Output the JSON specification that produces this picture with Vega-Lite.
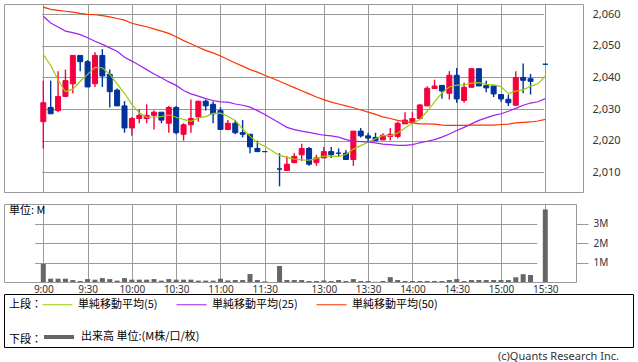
{
  "$schema": "https://vega.github.io/schema/vega-lite/v6.json",
  "padding": {"left": 3, "top": 3, "right": 0, "bottom": 0},
  "background": "white",
  "bounds": "flush",
  "spacing": 12,
  "resolve": {"scale": {"color": "independent"}, "legend": {"color": "independent"}},
  "config": {
    "font": "Noto Sans CJK JP",
    "view": {"stroke": "#999999", "strokeWidth": 1},
    "axis": {"labelFont": "Noto Sans", "labelColor": "#333333", "gridColor": "#999999", "gridWidth": 1, "gridOpacity": 1, "domain": false, "ticks": false, "labelOverlap": false},
    "legend": {"labelFont": "Noto Sans CJK JP", "titleFont": "Noto Sans CJK JP", "labelFontSize": 11, "titleFontSize": 11, "titleFontWeight": "normal", "labelColor": "#000000", "titleColor": "#000000"}
  },
  "datasets": {
    "d": [
      {"t":"9:00","o":2026,"h":2039,"l":2017.5,"c":2032,"v":0.93,"m5":2047.3,"m25":2059.4,"m50":2062.3},
      {"t":"9:05","o":2030.5,"h":2039,"l":2028.5,"c":2028.5,"v":0.17,"m5":2043.8,"m25":2057.3,"m50":2061.6},
      {"t":"9:10","o":2029.5,"h":2042,"l":2029,"c":2034,"v":0.17,"m5":2039.3,"m25":2056,"m50":2061.3},
      {"t":"9:15","o":2034,"h":2042.5,"l":2034,"c":2039,"v":0.17,"m5":2035.5,"m25":2054.7,"m50":2061},
      {"t":"9:20","o":2038,"h":2047,"l":2035,"c":2047,"v":0.1,"m5":2036.3,"m25":2054.2,"m50":2060.7},
      {"t":"9:25","o":2047,"h":2047,"l":2042,"c":2045,"v":0.05,"m5":2038.8,"m25":2053.6,"m50":2060.3},
      {"t":"9:30","o":2045,"h":2045.5,"l":2037,"c":2037,"v":0.15,"m5":2041,"m25":2052.6,"m50":2060},
      {"t":"9:35","o":2038,"h":2048,"l":2037,"c":2047,"v":0.12,"m5":2043.2,"m25":2051.5,"m50":2059.9},
      {"t":"9:40","o":2047,"h":2049,"l":2037,"c":2040.5,"v":0.2,"m5":2043.1,"m25":2050.5,"m50":2059.6},
      {"t":"9:45","o":2041,"h":2042.5,"l":2030.5,"c":2035.5,"v":0.15,"m5":2041,"m25":2049.4,"m50":2059.2},
      {"t":"9:50","o":2036,"h":2036.5,"l":2031,"c":2031,"v":0.07,"m5":2038,"m25":2048.3,"m50":2058.7},
      {"t":"9:55","o":2031,"h":2032.5,"l":2022.5,"c":2024,"v":0.2,"m5":2035,"m25":2046.4,"m50":2058.2},
      {"t":"10:00","o":2024,"h":2027.5,"l":2021.5,"c":2027,"v":0.12,"m5":2031.4,"m25":2045.2,"m50":2057.2},
      {"t":"10:05","o":2027,"h":2030,"l":2025.5,"c":2028,"v":0.12,"m5":2028.8,"m25":2043.9,"m50":2056.6},
      {"t":"10:10","o":2027,"h":2031.5,"l":2025.5,"c":2028,"v":0.12,"m5":2027.4,"m25":2042.5,"m50":2056.1},
      {"t":"10:15","o":2028,"h":2029.5,"l":2023.5,"c":2029,"v":0.15,"m5":2027.4,"m25":2041.1,"m50":2055.4},
      {"t":"10:20","o":2029,"h":2029,"l":2025.5,"c":2026.5,"v":0.07,"m5":2027.6,"m25":2039.9,"m50":2054.7},
      {"t":"10:25","o":2025.5,"h":2031,"l":2022.5,"c":2030.5,"v":0.15,"m5":2028.1,"m25":2038.6,"m50":2054},
      {"t":"10:30","o":2030.5,"h":2031,"l":2022,"c":2022.5,"v":0.12,"m5":2027.4,"m25":2037.5,"m50":2052.9},
      {"t":"10:35","o":2022,"h":2025.5,"l":2020,"c":2025,"v":0.12,"m5":2026.7,"m25":2035.9,"m50":2051.7},
      {"t":"10:40","o":2025,"h":2033,"l":2022.5,"c":2027,"v":0.12,"m5":2026.1,"m25":2034.8,"m50":2050.7},
      {"t":"10:45","o":2027.5,"h":2032.5,"l":2026,"c":2032.5,"v":0.07,"m5":2027.2,"m25":2034.1,"m50":2049.6},
      {"t":"10:50","o":2032.5,"h":2033,"l":2029.5,"c":2031,"v":0.07,"m5":2027.6,"m25":2033.3,"m50":2048.6},
      {"t":"10:55","o":2031.5,"h":2032.5,"l":2025.5,"c":2028.5,"v":0.07,"m5":2028.6,"m25":2032.7,"m50":2047.8},
      {"t":"11:00","o":2029.5,"h":2030.5,"l":2023.5,"c":2023.5,"v":0.17,"m5":2028.7,"m25":2032.3,"m50":2046.8},
      {"t":"11:05","o":2023.5,"h":2026.5,"l":2023.5,"c":2025.5,"v":0.08,"m5":2027.7,"m25":2032.2,"m50":2045.7},
      {"t":"11:10","o":2025.5,"h":2026.5,"l":2022,"c":2022.5,"v":0.1,"m5":2026.4,"m25":2031.6,"m50":2044.6},
      {"t":"11:15","o":2022.5,"h":2026.5,"l":2021,"c":2022,"v":0.1,"m5":2023.7,"m25":2031.2,"m50":2043.6},
      {"t":"11:20","o":2022,"h":2022,"l":2016,"c":2018,"v":0.41,"m5":2021.4,"m25":2030.6,"m50":2042.5},
      {"t":"11:25","o":2017.5,"h":2020,"l":2016.5,"c":2016.5,"v":0.1,"m5":2019.3,"m25":2029.5,"m50":2041.7},
      {"t":"11:30","o":2016.5,"h":2016.5,"l":2016.5,"c":2016.5,"v":0.03,"m5":2018.2,"m25":2028.3,"m50":2040.7},
      {"t":"12:30","o":2011,"h":2016,"l":2005.5,"c":2011,"v":0.82,"m5":2015.3,"m25":2025.6,"m50":2038.8},
      {"t":"12:35","o":2010.5,"h":2015,"l":2010.5,"c":2012.5,"v":0.1,"m5":2014.7,"m25":2024.2,"m50":2037.8},
      {"t":"12:40","o":2013,"h":2016,"l":2013,"c":2015,"v":0.1,"m5":2014.1,"m25":2023.5,"m50":2036.8},
      {"t":"12:45","o":2015.5,"h":2019,"l":2013.5,"c":2017.5,"v":0.1,"m5":2013.9,"m25":2023,"m50":2035.8},
      {"t":"12:50","o":2017.5,"h":2018,"l":2012,"c":2012.5,"v":0.05,"m5":2013.8,"m25":2022.6,"m50":2034.8},
      {"t":"12:55","o":2013,"h":2015.5,"l":2012,"c":2014.5,"v":0.05,"m5":2014.3,"m25":2022.1,"m50":2033.8},
      {"t":"13:00","o":2014.5,"h":2018,"l":2014.5,"c":2016.5,"v":0.08,"m5":2015.1,"m25":2021.7,"m50":2033},
      {"t":"13:05","o":2016.5,"h":2018,"l":2014.5,"c":2015.5,"v":0.05,"m5":2015.1,"m25":2021.5,"m50":2032.2},
      {"t":"13:10","o":2016,"h":2017.5,"l":2015,"c":2016,"v":0.1,"m5":2014.9,"m25":2021.1,"m50":2031.6},
      {"t":"13:15","o":2016,"h":2017,"l":2014,"c":2014,"v":0.05,"m5":2015.6,"m25":2020.3,"m50":2031},
      {"t":"13:20","o":2014,"h":2023,"l":2012,"c":2023,"v":0.15,"m5":2017.3,"m25":2019.8,"m50":2030.4},
      {"t":"13:25","o":2023,"h":2024,"l":2021,"c":2021.5,"v":0.05,"m5":2018.4,"m25":2019.7,"m50":2029.7},
      {"t":"13:30","o":2021.5,"h":2022.5,"l":2019.8,"c":2020.8,"v":0.05,"m5":2019.5,"m25":2019.6,"m50":2029},
      {"t":"13:35","o":2021,"h":2022.5,"l":2020,"c":2020,"v":0.01,"m5":2020.6,"m25":2019.3,"m50":2028.3},
      {"t":"13:40","o":2020.2,"h":2022.3,"l":2020.2,"c":2021.7,"v":0.05,"m5":2021.6,"m25":2018.9,"m50":2027.5},
      {"t":"13:45","o":2021.3,"h":2024,"l":2020,"c":2022,"v":0.25,"m5":2021.6,"m25":2018.7,"m50":2027},
      {"t":"13:50","o":2021.3,"h":2026,"l":2020.7,"c":2025.5,"v":0.1,"m5":2022.4,"m25":2018.5,"m50":2026.4},
      {"t":"13:55","o":2025.3,"h":2029,"l":2025.3,"c":2026.5,"v":0.05,"m5":2024,"m25":2018.5,"m50":2026},
      {"t":"14:00","o":2026,"h":2029,"l":2026,"c":2027,"v":0.05,"m5":2025.5,"m25":2018.7,"m50":2025.6},
      {"t":"14:05","o":2027,"h":2031.5,"l":2027,"c":2031.3,"v":0.05,"m5":2026.7,"m25":2019.3,"m50":2025.3},
      {"t":"14:10","o":2031,"h":2037.2,"l":2031,"c":2036.6,"v":0.05,"m5":2029.3,"m25":2019.8,"m50":2025.3},
      {"t":"14:15","o":2036.5,"h":2039.3,"l":2036.5,"c":2037.3,"v":0.05,"m5":2032.3,"m25":2020.3,"m50":2025.2},
      {"t":"14:20","o":2037.5,"h":2037.5,"l":2033.3,"c":2035.7,"v":0.05,"m5":2035.1,"m25":2021.1,"m50":2024.9},
      {"t":"14:25","o":2035,"h":2042,"l":2033,"c":2040.7,"v":0.1,"m5":2037,"m25":2022.1,"m50":2024.8},
      {"t":"14:30","o":2040.7,"h":2043,"l":2032,"c":2033.2,"v":0.15,"m5":2037.6,"m25":2023.2,"m50":2024.8},
      {"t":"14:35","o":2032.7,"h":2038.3,"l":2032,"c":2036.9,"v":0.05,"m5":2037.7,"m25":2024.2,"m50":2024.8},
      {"t":"14:40","o":2036.9,"h":2042.8,"l":2036.9,"c":2042.8,"v":0.1,"m5":2038.2,"m25":2025.3,"m50":2024.9},
      {"t":"14:45","o":2042.8,"h":2042.8,"l":2037.3,"c":2037.3,"v":0.1,"m5":2038.4,"m25":2026.4,"m50":2024.9},
      {"t":"14:50","o":2037.4,"h":2039,"l":2035.3,"c":2036.7,"v":0.1,"m5":2037.8,"m25":2027.2,"m50":2024.9},
      {"t":"14:55","o":2037.3,"h":2037.3,"l":2033.8,"c":2034.8,"v":0.1,"m5":2037.7,"m25":2028,"m50":2024.9},
      {"t":"15:00","o":2034.6,"h":2034.6,"l":2032.3,"c":2033.2,"v":0.1,"m5":2037.1,"m25":2028.5,"m50":2025.1},
      {"t":"15:05","o":2033.1,"h":2034.6,"l":2031,"c":2032,"v":0.1,"m5":2034.9,"m25":2029.3,"m50":2025.2},
      {"t":"15:10","o":2031.2,"h":2042,"l":2031.2,"c":2040,"v":0.25,"m5":2035.7,"m25":2030.2,"m50":2025.6},
      {"t":"15:15","o":2040,"h":2044.4,"l":2035,"c":2039.1,"v":0.4,"m5":2036.1,"m25":2031.2,"m50":2025.8},
      {"t":"15:20","o":2039.6,"h":2041.1,"l":2034.6,"c":2038.8,"v":0.36,"m5":2037.2,"m25":2031.9,"m50":2025.9},
      {"t":"15:25","m5":2038,"m25":2032.3,"m50":2026.2},
      {"t":"15:30","o":2044.2,"h":2044.2,"l":2044.2,"c":2044.2,"v":3.72,"m5":2040.4,"m25":2033.3,"m50":2026.7}
    ]
  },
  "vconcat": [
    {
      "width": 579,
      "height": 188,
      "data": {"name": "d"},
      "encoding": {
        "x": {
          "field": "t", "type": "ordinal",
          "scale": {"type": "point", "padding": 0, "range": [39.3, 541.3],
            "domain": ["9:00","9:05","9:10","9:15","9:20","9:25","9:30","9:35","9:40","9:45","9:50","9:55","10:00","10:05","10:10","10:15","10:20","10:25","10:30","10:35","10:40","10:45","10:50","10:55","11:00","11:05","11:10","11:15","11:20","11:25","11:30","昼休み","12:30","12:35","12:40","12:45","12:50","12:55","13:00","13:05","13:10","13:15","13:20","13:25","13:30","13:35","13:40","13:45","13:50","13:55","14:00","14:05","14:10","14:15","14:20","14:25","14:30","14:35","14:40","14:45","14:50","14:55","15:00","15:05","15:10","15:15","15:20","15:25","15:30"]},
          "axis": {"values": ["9:00","9:30","10:00","10:30","11:00","11:30","13:00","13:30","14:00","14:30","15:00","15:30"], "labels": false, "ticks": false, "domain": false, "grid": true, "title": null}
        }
      },
      "layer": [
        {
          "transform": [{"filter": "isValid(datum.o)"}],
          "mark": {"type": "rule", "strokeWidth": 1.4},
          "encoding": {
            "y": {"field": "l", "type": "quantitative",
              "scale": {"domain": [2003.7, 2063.3], "zero": false, "nice": false},
              "axis": {"orient": "right", "values": [2010, 2020, 2030, 2040, 2050, 2060], "labelExpr": "format(datum.value, ',')", "labelOverlap": false, "labelFlush": false, "grid": true, "labelPadding": 9, "labelFontSize": 11, "title": null}},
            "y2": {"field": "h"},
            "color": {"condition": {"test": "datum.c > datum.o", "value": "#f5003d"}, "value": "#003399"}
          }
        },
        {
          "transform": [{"filter": "isValid(datum.o)"}],
          "mark": {"type": "bar", "width": 5, "strokeWidth": 1},
          "encoding": {
            "y": {"field": "o", "type": "quantitative",
              "scale": {"domain": [2003.7, 2063.3], "zero": false, "nice": false},
              "axis": {"orient": "right", "values": [2010, 2020, 2030, 2040, 2050, 2060], "labelExpr": "format(datum.value, ',')", "labelOverlap": false, "labelFlush": false, "grid": true, "labelPadding": 9, "labelFontSize": 11, "title": null}},
            "y2": {"field": "c"},
            "fill": {"condition": {"test": "datum.c > datum.o", "value": "#f5003d"}, "value": "#003399"},
            "stroke": {"condition": {"test": "datum.c > datum.o", "value": "#f5003d"}, "value": "#003399"}
          }
        },
        {
          "transform": [{"fold": ["m5", "m25", "m50"], "as": ["s", "val"]}],
          "mark": {"type": "line", "strokeWidth": 1.2},
          "encoding": {
            "y": {"field": "val", "type": "quantitative",
              "scale": {"domain": [2003.7, 2063.3], "zero": false, "nice": false},
              "axis": {"orient": "right", "values": [2010, 2020, 2030, 2040, 2050, 2060], "labelExpr": "format(datum.value, ',')", "labelOverlap": false, "labelFlush": false, "grid": true, "labelPadding": 9, "labelFontSize": 11, "title": null}},
            "color": {
              "field": "s", "type": "nominal",
              "scale": {"domain": ["m5", "m25", "m50"], "range": ["#99cc00", "#a020f0", "#ff3300"]},
              "legend": {
                "title": "上段：", "orient": "none", "legendX": 5, "legendY": 285,
                "direction": "horizontal", "titleOrient": "left", "titlePadding": 0,
                "titleAnchor": "end", "titleBaseline": "bottom",
                "symbolType": "stroke", "symbolSize": 900, "symbolStrokeWidth": 1,
                "labelOffset": 5, "columnPadding": 16,
                "labelExpr": "datum.label == 'm5' ? '単純移動平均(5)' : datum.label == 'm25' ? '単純移動平均(25)' : '単純移動平均(50)'"
              }
            }
          }
        }
      ]
    },
    {
      "width": 572,
      "height": 78,
      "data": {"name": "d"},
      "title": {"text": "単位: M", "anchor": "start", "frame": "group", "orient": "top", "offset": -12, "dx": 5, "fontSize": 11, "fontWeight": "normal", "color": "#000000", "font": "Noto Sans CJK JP"},
      "transform": [{"filter": "isValid(datum.v)"}],
      "mark": {"type": "bar", "width": 5},
      "encoding": {
        "x": {
          "field": "t", "type": "ordinal",
          "scale": {"type": "point", "padding": 0, "range": [39.3, 541.3],
            "domain": ["9:00","9:05","9:10","9:15","9:20","9:25","9:30","9:35","9:40","9:45","9:50","9:55","10:00","10:05","10:10","10:15","10:20","10:25","10:30","10:35","10:40","10:45","10:50","10:55","11:00","11:05","11:10","11:15","11:20","11:25","11:30","昼休み","12:30","12:35","12:40","12:45","12:50","12:55","13:00","13:05","13:10","13:15","13:20","13:25","13:30","13:35","13:40","13:45","13:50","13:55","14:00","14:05","14:10","14:15","14:20","14:25","14:30","14:35","14:40","14:45","14:50","14:55","15:00","15:05","15:10","15:15","15:20","15:25","15:30"]},
          "axis": {"values": ["9:00","9:30","10:00","10:30","11:00","11:30","13:00","13:30","14:00","14:30","15:00","15:30"], "labelAngle": 0, "labelFontSize": 10, "labelPadding": 2, "ticks": false, "domain": false, "grid": true, "title": null}
        },
        "y": {
          "field": "v", "type": "quantitative",
          "scale": {"domain": [0, 4], "nice": false},
          "axis": {"orient": "right", "values": [1, 2, 3], "labelExpr": "datum.value + 'M'", "grid": true, "ticks": true, "tickSize": 12, "tickColor": "#999999", "labelPadding": 5, "labelFontSize": 10, "title": null}
        },
        "color": {
          "datum": "出来高 単位:(M株/口/枚)", "type": "nominal",
          "scale": {"range": ["#666666"]},
          "legend": {
            "title": "下段：", "orient": "none", "legendX": 5, "legendY": 116,
            "direction": "horizontal", "titleOrient": "left", "titlePadding": 0,
            "titleAnchor": "end", "titleBaseline": "bottom",
            "symbolType": "stroke", "symbolSize": 900, "symbolStrokeWidth": 4, "symbolStrokeColor": "#666666",
            "labelOffset": 5
          }
        }
      }
    },
    {
      "width": 629,
      "height": 53,
      "view": {"stroke": "#000000", "strokeWidth": 1},
      "data": {"values": [{}]},
      "mark": {"type": "point", "opacity": 0},
      "title": {"text": "(c)Quants Research Inc.", "orient": "bottom", "anchor": "end", "frame": "group", "offset": 4, "dx": -14, "fontSize": 11, "fontWeight": "normal", "color": "#333333", "font": "Noto Sans"}
    }
  ]
}
